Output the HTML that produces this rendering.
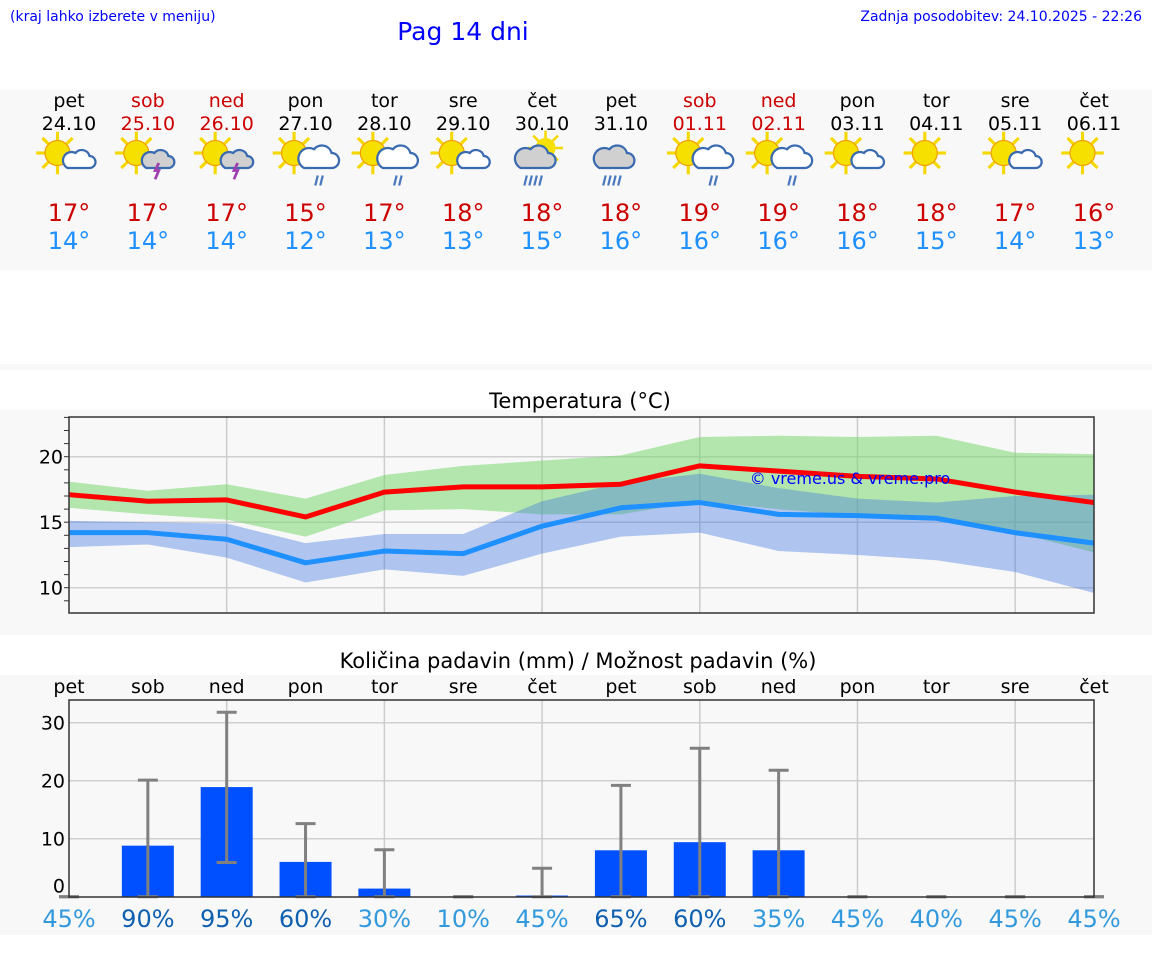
<!DOCTYPE html>
<html><head><meta charset="utf-8">
<style>
body{margin:0;width:1152px;height:975px;background:#fff;overflow:hidden;font-family:"DejaVu Sans","Liberation Sans",sans-serif;}
svg{display:block}
</style></head>
<body>
<svg id="s" width="1152" height="975" xmlns="http://www.w3.org/2000/svg" font-family="DejaVu Sans, Liberation Sans, sans-serif">
<text x="10" y="21" font-size="14" fill="#0000ff">(kraj lahko izberete v meniju)</text>
<text x="463" y="40" font-size="25" fill="#0000ff" text-anchor="middle">Pag 14 dni</text>
<text x="1142" y="21" font-size="14" fill="#0000ff" text-anchor="end">Zadnja posodobitev: 24.10.2025 - 22:26</text>
<rect x="0" y="90" width="1152" height="180" fill="#f8f8f8"/>
<rect x="0" y="364" width="1152" height="6" fill="#f8f8f8"/>
<rect x="0" y="410" width="1152" height="225" fill="#f8f8f8"/>
<rect x="0" y="675" width="1152" height="260" fill="#f8f8f8"/>
<text x="580" y="408" font-size="21" text-anchor="middle" fill="#000">Temperatura (°C)</text>
<text x="578" y="668" font-size="21" text-anchor="middle" fill="#000">Količina padavin (mm) / Možnost padavin (%)</text>
<g id="g"></g>
</svg>
<script>
const days=["pet","sob","ned","pon","tor","sre","čet","pet","sob","ned","pon","tor","sre","čet"];
const dates=["24.10","25.10","26.10","27.10","28.10","29.10","30.10","31.10","01.11","02.11","03.11","04.11","05.11","06.11"];
const weekend=[0,1,1,0,0,0,0,0,1,1,0,0,0,0];
const icons=["sc","st","st","sr","sr","sc","cr","r","sr","sr","sc","s","sc","s"];
const hiT=[17,17,17,15,17,18,18,18,19,19,18,18,17,16];
const loT=[14,14,14,12,13,13,15,16,16,16,16,15,14,13];
const tMax=[17.1,16.6,16.7,15.4,17.3,17.7,17.7,17.9,19.3,18.9,18.5,18.3,17.3,16.5];
const tMaxHi=[18.1,17.4,17.9,16.8,18.6,19.3,19.7,20.1,21.5,21.6,21.5,21.6,20.3,20.2];
const tMaxLo=[16.1,15.6,15.2,13.9,15.9,16.0,15.6,15.6,16.6,16.0,15.5,15.3,14.2,12.7];
const tMin=[14.2,14.2,13.7,11.9,12.8,12.6,14.7,16.1,16.5,15.6,15.5,15.3,14.2,13.4];
const tMinHi=[15.1,15.0,14.9,13.4,14.1,14.1,16.6,18.0,18.7,17.6,16.8,16.5,17.0,17.1];
const tMinLo=[13.1,13.3,12.3,10.4,11.4,10.9,12.6,13.9,14.2,12.8,12.5,12.1,11.2,9.6];
const rain=[0,8.8,18.9,6,1.4,0,0.2,8,9.4,8,0,0,0,0];
const rainHi=[0,20.1,31.8,12.6,8.1,0,4.9,19.2,25.6,21.8,0,0,0,0];
const rainLo=[0,0,5.9,0,0,0,0,0,0,0,0,0,0,0];
const prob=[45,90,95,60,30,10,45,65,60,35,45,40,45,45];
const tTicks=[10,15,20];
const rTicks=[0,10,20,30];

const NS="http://www.w3.org/2000/svg";
const g=document.getElementById('g');
function el(t,a,p){const e=document.createElementNS(NS,t);for(const k in a)e.setAttribute(k,a[k]);(p||g).appendChild(e);return e;}
const X0=69,X1=1094;
const x=i=>X0+i*(X1-X0)/13;
const yT=v=>456.7-(v-20)*13.1;
const yR=v=>896.7-v*5.8;

days.forEach((d,i)=>{
  const c=weekend[i]?"#cc0000":"#000";
  let t=el('text',{x:x(i),y:107,'font-size':19,'text-anchor':'middle',fill:c});t.textContent=d;
  
  t=el('text',{x:x(i),y:130,'font-size':19,'text-anchor':'middle',fill:c});t.textContent=dates[i];
  
  t=el('text',{x:x(i),y:221,'font-size':24,'text-anchor':'middle',fill:"#cc0000"});t.textContent=hiT[i]+"°";
  
  t=el('text',{x:x(i),y:249,'font-size':24,'text-anchor':'middle',fill:"#1e90ff"});t.textContent=loT[i]+"°";
  
  const ic=el('g',{transform:`translate(${x(i)-4},158) scale(1.25)`});
  
  const k=icons[i];
  if(k!=="r"&&k!=="cr"){
    for(let a=0;a<8;a++){const an=a*Math.PI/4;el('line',{x1:-6+Math.cos(an)*10,y1:-4+Math.sin(an)*10,x2:-6+Math.cos(an)*17,y2:-4+Math.sin(an)*17,stroke:'#f5d800','stroke-width':2.5},ic);}
    el('circle',{cx:-6,cy:-4,r:10,fill:'#f5e000',stroke:'#f0a000','stroke-width':1},ic);
  } else if(k==="cr"){
    for(let a=0;a<8;a++){const an=a*Math.PI/4;el('line',{x1:6+Math.cos(an)*8,y1:-8+Math.sin(an)*8,x2:6+Math.cos(an)*14,y2:-8+Math.sin(an)*14,stroke:'#f5d800','stroke-width':2},ic);}
    el('circle',{cx:6,cy:-8,r:8,fill:'#f5e000'},ic);
  }
  if(k!=="s"){
    const big=(k==="r"||k==="sr"||k==="cr");
    const s=big?1.0:0.8;
    const ox=(k==="r"||k==="cr")?-14:2;
    const fill=(k==="st"||k==="r"||k==="cr")?'#d0d0d0':'#fff';
    el('path',{d:`M${ox} ${8} h${22*s} a${6*s} ${6*s} 0 0 0 0 -${12*s} a${8*s} ${8*s} 0 0 0 -${14*s} -${3*s} a${6*s} ${6*s} 0 0 0 -${8*s} ${15*s} z`,fill:fill,stroke:'#3a6ab0','stroke-width':1.8},ic);
    if(k==="st")el('path',{d:'M12 4 l-3 6 h3 l-3 7',stroke:'#a040b0','stroke-width':2.2,fill:'none'},ic);
    if(big){const n=(k==="sr"?2:4);for(let j=0;j<n;j++){const bx=ox+(k==="sr"?10:4)+j*4;el('line',{x1:bx+1,y1:14,x2:bx-1,y2:22,stroke:'#4a78c0','stroke-width':1.8},ic);}}
  }
});

const tp=el('g',{});
el('rect',{x:X0,y:417,width:X1-X0,height:196,fill:'#f8f8f8',stroke:'none'},tp);
tTicks.forEach(v=>{el('line',{x1:X0,x2:X1,y1:yT(v),y2:yT(v),stroke:'#d0d0d0','stroke-width':1.5},tp);
  const t=el('text',{x:X0-6,y:yT(v)+7,'font-size':19,'text-anchor':'end',fill:'#000'},tp);t.textContent=v;
  });
for(let v=9;v<=23;v++)el('line',{x1:X0-5,x2:X0,y1:yT(v),y2:yT(v),stroke:'#333'},tp);
for(let i=2;i<13;i+=2)el('line',{x1:x(i),x2:x(i),y1:417,y2:613,stroke:'#ccc','stroke-width':1.5},tp);
function band(hi,lo,col,name){let d='M'+hi.map((v,i)=>x(i)+' '+yT(v)).join(' L')+' L'+lo.map((v,i)=>x(i)+' '+yT(v)).reverse().join(' L')+' Z';
  const p=el('path',{d:d,fill:col},tp);}
band(tMaxHi,tMaxLo,'rgba(120,215,110,0.55)','max-temp-range');
band(tMinHi,tMinLo,'rgba(65,120,225,0.4)','min-temp-range');
function line(a,col,name){const p=el('polyline',{points:a.map((v,i)=>x(i)+','+yT(v)).join(' '),fill:'none',stroke:col,'stroke-width':5,'stroke-linejoin':'round'},tp);
  }
line(tMin,'#1e90ff','min-temp-line');
line(tMax,'#ff0000','max-temp-line');
el('rect',{x:X0,y:417,width:X1-X0,height:196,fill:'none',stroke:'#333','stroke-width':1.5},tp);
let wm=el('text',{x:850,y:484,'font-size':16,'text-anchor':'middle',fill:'#0000ff'},tp);wm.textContent="© vreme.us & vreme.pro";


const pp=el('g',{});
el('rect',{x:X0,y:700,width:X1-X0,height:197,fill:'#f8f8f8'},pp);
rTicks.forEach(v=>{if(v>0)el('line',{x1:X0,x2:X1,y1:yR(v),y2:yR(v),stroke:'#d0d0d0','stroke-width':1.5},pp);
  const t=el('text',{x:X0-4,y:(v===0?yR(v)-4:yR(v)+7),'font-size':19,'text-anchor':'end',fill:'#000'},pp);t.textContent=v;
  });
for(let i=2;i<13;i+=2)el('line',{x1:x(i),x2:x(i),y1:700,y2:897,stroke:'#ccc','stroke-width':1.5},pp);
days.forEach((d,i)=>{
  let t=el('text',{x:x(i),y:693,'font-size':19,'text-anchor':'middle',fill:'#000'},pp);t.textContent=d;
  
  const b=el('rect',{x:x(i)-26,y:yR(rain[i]),width:52,height:yR(0)-yR(rain[i]),fill:'#0050ff'},pp);
  
  const e=el('g',{},pp);
  el('line',{x1:x(i),x2:x(i),y1:yR(rainHi[i]),y2:yR(rainLo[i]),stroke:'#808080','stroke-width':3},e);
  el('line',{x1:x(i)-10,x2:x(i)+10,y1:yR(rainHi[i]),y2:yR(rainHi[i]),stroke:'#808080','stroke-width':3},e);
  el('line',{x1:x(i)-10,x2:x(i)+10,y1:yR(rainLo[i]),y2:yR(rainLo[i]),stroke:'#808080','stroke-width':3},e);
  t=el('text',{x:x(i),y:927,'font-size':24,'text-anchor':'middle',fill:prob[i]>=50?'#1060b0':'#3399dd'},pp);t.textContent=prob[i]+"%";
  
});
el('rect',{x:X0,y:700,width:X1-X0,height:197,fill:'none',stroke:'#333','stroke-width':1.5},pp);
</script>
</body></html>
